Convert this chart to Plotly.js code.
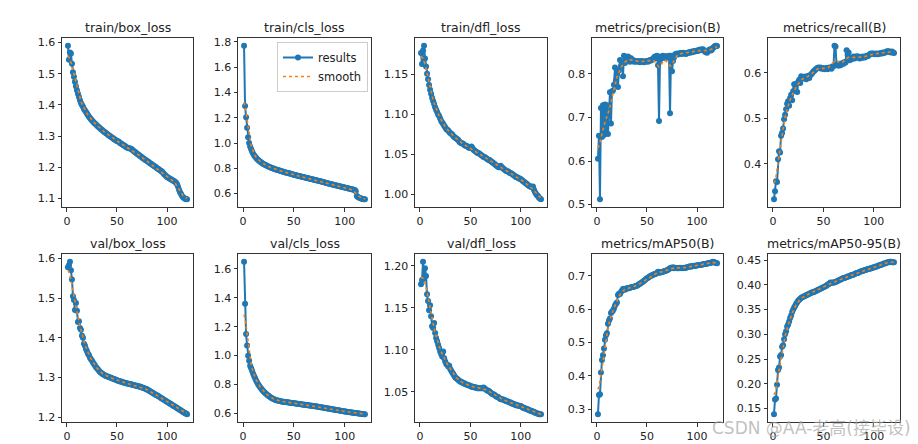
<!DOCTYPE html>
<html>
<head>
<meta charset="utf-8">
<script src="https://cdn.plot.ly/plotly-3.0.1.min.js"></script>
<style>html,body{margin:0;padding:0;background:#fff;}#chart{width:918px;height:444px;}</style>
</head>
<body>
<div id="chart"></div>
<script>
// ---- data (epoch 1..120) ----
const trainBoxLoss = [
1.590,1.545,1.568,1.565,1.532,1.505,1.490,1.474,1.460,1.447,
1.436,1.425,1.415,1.406,1.400,1.394,1.387,1.382,1.377,1.372,
1.367,1.362,1.358,1.354,1.350,1.347,1.343,1.340,1.337,1.334,
1.331,1.328,1.325,1.322,1.320,1.317,1.314,1.312,1.309,1.307,
1.304,1.302,1.300,1.297,1.295,1.293,1.290,1.289,1.286,1.284,
1.283,1.281,1.278,1.276,1.274,1.272,1.270,1.268,1.265,1.263,
1.262,1.261,1.260,1.259,1.257,1.254,1.251,1.249,1.246,1.244,
1.241,1.239,1.236,1.234,1.231,1.229,1.227,1.224,1.222,1.220,
1.218,1.215,1.213,1.211,1.209,1.206,1.204,1.202,1.200,1.197,
1.195,1.193,1.190,1.188,1.186,1.182,1.178,1.175,1.172,1.169,
1.167,1.165,1.163,1.161,1.159,1.157,1.155,1.153,1.150,1.145,
1.137,1.128,1.120,1.114,1.108,1.104,1.101,1.099,1.098,1.097];
const trainClsLoss = [
1.770,1.292,1.205,1.120,1.045,1.000,0.972,0.950,0.932,0.916,
0.902,0.891,0.881,0.872,0.865,0.858,0.852,0.846,0.840,0.835,
0.830,0.826,0.822,0.818,0.814,0.810,0.807,0.804,0.801,0.798,
0.795,0.792,0.789,0.787,0.784,0.782,0.779,0.777,0.775,0.772,
0.769,0.767,0.765,0.763,0.761,0.759,0.757,0.755,0.752,0.749,
0.747,0.745,0.743,0.741,0.739,0.737,0.735,0.733,0.731,0.729,
0.727,0.725,0.723,0.721,0.719,0.717,0.715,0.713,0.711,0.709,
0.707,0.705,0.703,0.701,0.699,0.697,0.695,0.693,0.691,0.689,
0.687,0.685,0.683,0.681,0.679,0.677,0.675,0.673,0.671,0.669,
0.667,0.665,0.663,0.661,0.659,0.657,0.655,0.653,0.651,0.649,
0.647,0.645,0.643,0.641,0.639,0.637,0.635,0.633,0.631,0.629,
0.618,0.582,0.574,0.569,0.565,0.562,0.559,0.557,0.556,0.555];
const trainDflLoss = [
1.177,1.163,1.180,1.186,1.170,1.160,1.151,1.144,1.137,1.131,
1.126,1.121,1.117,1.113,1.109,1.106,1.103,1.100,1.098,1.095,
1.092,1.090,1.088,1.086,1.084,1.082,1.081,1.080,1.078,1.077,
1.076,1.075,1.073,1.072,1.071,1.070,1.069,1.068,1.066,1.065,
1.064,1.064,1.063,1.062,1.061,1.061,1.060,1.059,1.058,1.059,
1.060,1.058,1.056,1.055,1.054,1.053,1.052,1.052,1.051,1.050,
1.049,1.048,1.047,1.047,1.046,1.045,1.044,1.043,1.043,1.042,
1.041,1.040,1.039,1.038,1.037,1.036,1.035,1.034,1.034,1.036,
1.034,1.033,1.032,1.031,1.030,1.029,1.029,1.028,1.027,1.027,
1.026,1.025,1.024,1.023,1.022,1.022,1.021,1.020,1.020,1.019,
1.018,1.017,1.016,1.015,1.014,1.013,1.012,1.011,1.010,1.010,
1.009,1.010,1.006,1.003,1.001,0.999,0.998,0.996,0.995,0.994];
const precisionB = [
0.605,0.658,0.512,0.722,0.655,0.728,0.660,0.730,0.668,0.728,
0.662,0.705,0.758,0.686,0.760,0.762,0.775,0.815,0.785,0.800,
0.770,0.808,0.832,0.818,0.828,0.795,0.842,0.825,0.838,0.832,
0.840,0.838,0.828,0.836,0.830,0.832,0.828,0.830,0.828,0.829,
0.830,0.828,0.827,0.829,0.830,0.828,0.827,0.828,0.830,0.829,
0.828,0.830,0.832,0.831,0.833,0.835,0.838,0.840,0.836,0.842,
0.820,0.692,0.832,0.840,0.838,0.842,0.840,0.836,0.841,0.840,
0.838,0.842,0.710,0.842,0.806,0.830,0.838,0.845,0.846,0.847,
0.845,0.846,0.848,0.847,0.846,0.849,0.848,0.847,0.846,0.848,
0.849,0.850,0.849,0.851,0.850,0.852,0.851,0.853,0.852,0.854,
0.853,0.855,0.856,0.855,0.856,0.857,0.854,0.851,0.850,0.849,
0.852,0.855,0.857,0.854,0.856,0.860,0.862,0.864,0.865,0.864];
const recallB = [
0.322,0.340,0.362,0.360,0.410,0.428,0.425,0.462,0.468,0.478,
0.498,0.508,0.520,0.532,0.538,0.528,0.545,0.552,0.540,0.560,
0.575,0.565,0.576,0.558,0.580,0.585,0.578,0.593,0.590,0.588,
0.590,0.592,0.586,0.590,0.594,0.589,0.595,0.597,0.600,0.603,
0.605,0.607,0.609,0.611,0.612,0.611,0.612,0.609,0.611,0.610,
0.608,0.610,0.611,0.608,0.610,0.612,0.611,0.609,0.614,0.615,
0.660,0.658,0.618,0.620,0.616,0.620,0.617,0.619,0.622,0.620,
0.624,0.623,0.650,0.640,0.645,0.628,0.632,0.630,0.634,0.636,
0.632,0.635,0.637,0.634,0.636,0.632,0.634,0.633,0.636,0.635,
0.634,0.636,0.638,0.637,0.639,0.641,0.643,0.642,0.643,0.642,
0.641,0.643,0.642,0.641,0.643,0.642,0.644,0.643,0.645,0.644,
0.645,0.646,0.648,0.647,0.648,0.646,0.645,0.647,0.645,0.644];
const valBoxLoss = [
1.578,1.583,1.592,1.570,1.547,1.505,1.495,1.470,1.488,1.468,
1.440,1.442,1.425,1.420,1.405,1.400,1.385,1.380,1.372,1.366,
1.360,1.356,1.350,1.346,1.342,1.338,1.334,1.330,1.326,1.323,
1.320,1.317,1.314,1.312,1.310,1.308,1.307,1.305,1.304,1.303,
1.302,1.301,1.300,1.299,1.298,1.297,1.296,1.295,1.294,1.293,
1.292,1.291,1.290,1.290,1.289,1.288,1.287,1.287,1.286,1.285,
1.284,1.284,1.283,1.283,1.282,1.281,1.281,1.280,1.279,1.279,
1.278,1.277,1.277,1.276,1.275,1.274,1.273,1.272,1.271,1.270,
1.268,1.267,1.265,1.264,1.262,1.261,1.259,1.258,1.256,1.255,
1.253,1.252,1.250,1.248,1.247,1.245,1.244,1.242,1.241,1.239,
1.237,1.236,1.234,1.233,1.231,1.229,1.228,1.226,1.225,1.223,
1.221,1.220,1.218,1.217,1.215,1.213,1.212,1.210,1.209,1.207];
const valClsLoss = [
1.650,1.358,1.150,1.070,1.000,0.965,0.930,0.912,0.893,0.875,
0.858,0.842,0.826,0.812,0.800,0.790,0.780,0.771,0.762,0.754,
0.747,0.740,0.734,0.728,0.722,0.717,0.712,0.708,0.704,0.700,
0.697,0.694,0.692,0.690,0.688,0.686,0.685,0.683,0.682,0.681,
0.680,0.679,0.678,0.677,0.676,0.675,0.674,0.673,0.672,0.671,
0.670,0.669,0.668,0.667,0.666,0.665,0.664,0.663,0.662,0.661,
0.660,0.659,0.658,0.657,0.656,0.655,0.654,0.653,0.652,0.651,
0.650,0.649,0.648,0.646,0.645,0.644,0.643,0.642,0.640,0.639,
0.638,0.637,0.635,0.634,0.633,0.632,0.630,0.629,0.628,0.627,
0.625,0.624,0.623,0.622,0.620,0.619,0.618,0.617,0.616,0.614,
0.613,0.612,0.611,0.610,0.609,0.608,0.607,0.606,0.605,0.604,
0.603,0.602,0.601,0.600,0.599,0.598,0.597,0.596,0.595,0.594];
const valDflLoss = [
1.178,1.183,1.205,1.185,1.197,1.188,1.166,1.158,1.147,1.153,
1.140,1.128,1.126,1.132,1.120,1.114,1.110,1.106,1.102,1.098,
1.095,1.092,1.098,1.090,1.086,1.083,1.082,1.080,1.081,1.077,
1.075,1.073,1.071,1.069,1.067,1.066,1.065,1.064,1.063,1.062,
1.062,1.061,1.060,1.060,1.059,1.059,1.058,1.058,1.057,1.057,
1.056,1.056,1.056,1.055,1.055,1.055,1.054,1.054,1.054,1.054,
1.054,1.054,1.055,1.054,1.053,1.052,1.051,1.051,1.050,1.049,
1.048,1.047,1.047,1.046,1.045,1.044,1.044,1.043,1.042,1.041,
1.041,1.041,1.040,1.040,1.039,1.039,1.038,1.038,1.037,1.037,
1.036,1.036,1.035,1.035,1.034,1.034,1.034,1.033,1.033,1.033,
1.032,1.031,1.031,1.030,1.030,1.029,1.029,1.028,1.028,1.027,
1.027,1.026,1.026,1.025,1.025,1.024,1.024,1.023,1.023,1.023];
const mAP50B = [
0.285,0.343,0.345,0.410,0.448,0.462,0.482,0.508,0.522,0.528,
0.556,0.566,0.572,0.588,0.592,0.596,0.602,0.611,0.616,0.620,
0.642,0.646,0.645,0.651,0.656,0.660,0.661,0.658,0.660,0.662,
0.663,0.662,0.664,0.665,0.666,0.666,0.667,0.668,0.669,0.670,
0.672,0.674,0.676,0.678,0.680,0.682,0.685,0.687,0.690,0.692,
0.694,0.696,0.698,0.700,0.701,0.702,0.704,0.705,0.706,0.708,
0.712,0.710,0.709,0.710,0.711,0.712,0.713,0.714,0.715,0.716,
0.718,0.720,0.722,0.724,0.723,0.725,0.722,0.724,0.723,0.722,
0.723,0.722,0.724,0.723,0.722,0.723,0.724,0.723,0.724,0.725,
0.726,0.727,0.728,0.727,0.728,0.729,0.730,0.729,0.730,0.731,
0.731,0.732,0.732,0.733,0.733,0.734,0.735,0.735,0.736,0.736,
0.737,0.738,0.738,0.739,0.740,0.742,0.741,0.739,0.738,0.737];
const mAP5095B = [
0.138,0.168,0.170,0.198,0.228,0.233,0.255,0.258,0.275,0.278,
0.290,0.300,0.306,0.316,0.320,0.326,0.333,0.338,0.345,0.350,
0.354,0.358,0.362,0.365,0.368,0.370,0.372,0.374,0.375,0.376,
0.377,0.378,0.379,0.380,0.381,0.382,0.383,0.384,0.385,0.385,
0.386,0.387,0.388,0.389,0.390,0.391,0.392,0.393,0.394,0.395,
0.396,0.397,0.398,0.400,0.401,0.403,0.405,0.404,0.405,0.405,
0.405,0.406,0.407,0.408,0.409,0.410,0.411,0.412,0.413,0.414,
0.414,0.415,0.416,0.417,0.417,0.418,0.419,0.420,0.420,0.421,
0.422,0.423,0.424,0.424,0.425,0.426,0.427,0.428,0.428,0.429,
0.430,0.430,0.431,0.432,0.432,0.433,0.433,0.434,0.435,0.435,
0.436,0.437,0.437,0.438,0.439,0.440,0.440,0.441,0.442,0.443,
0.443,0.444,0.445,0.446,0.446,0.447,0.447,0.446,0.446,0.446];
const subplotTitles = ["train/box_loss","train/cls_loss","train/dfl_loss","metrics/precision(B)","metrics/recall(B)",
                       "val/box_loss","val/cls_loss","val/dfl_loss","metrics/mAP50(B)","metrics/mAP50-95(B)"];
const seriesList = [trainBoxLoss,trainClsLoss,trainDflLoss,precisionB,recallB,
                    valBoxLoss,valClsLoss,valDflLoss,mAP50B,mAP5095B];
const legendLabels = ["results","smooth"];
const watermarkText = "CSDN @AA-老高(接毕设)";

// ---- helpers ----
function gaussianFilter1d(y, sigma){
  const r = Math.floor(4*sigma+0.5), n=y.length, w=[];
  let s=0;
  for(let k=-r;k<=r;k++){const v=Math.exp(-0.5*k*k/(sigma*sigma)); w.push(v); s+=v;}
  const out=[];
  for(let i=0;i<n;i++){
    let acc=0;
    for(let k=-r;k<=r;k++){
      let j=i+k;
      while(j<0||j>=n){ if(j<0) j=-j-1; if(j>=n) j=2*n-j-1; }
      acc+=w[k+r]/s*y[j];
    }
    out.push(acc);
  }
  return out;
}

const W=918,H=444;
const cols=[[62,193],[238,371],[415,547],[592,723],[768,900]];
const rows=[[38,207],[254,422]];
const dticks=[0.1,0.2,0.05,0.1,0.1, 0.1,0.2,0.05,0.1,0.05];
const fmts=['.1f','.1f','.2f','.1f','.1f','.1f','.1f','.2f','.1f','.2f'];
const BLUE='#1f77b4', ORANGE='#ff7f0e', AX='#333333';
const FONT='DejaVu Sans';

const traces=[], annotations=[];
const layout={width:W,height:H,margin:{l:0,r:0,t:0,b:0},paper_bgcolor:'#fff',plot_bgcolor:'#fff',
  font:{family:FONT,size:11,color:'#222'},
  legend:{x:368/W,xanchor:'right',y:1-42/H,yanchor:'top',bgcolor:'rgba(255,255,255,0.85)',
    bordercolor:'#cccccc',borderwidth:1,font:{family:FONT,size:11.5,color:'#222'},
    tracegroupgap:0,itemwidth:30}};

seriesList.forEach((ys,i)=>{
  const epochs = ys.map((_,k)=>k+1);
  const smooth = gaussianFilter1d(ys,3);
  const ax = i+1, xa='x'+(i===0?'':ax), ya='y'+(i===0?'':ax);
  traces.push({x:epochs,y:ys,xaxis:xa,yaxis:ya,type:'scatter',mode:'lines+markers',name:legendLabels[0],
    line:{color:BLUE,width:2},marker:{color:BLUE,size:6},showlegend:i===1,hoverinfo:'skip'});
  traces.push({x:epochs,y:smooth,xaxis:xa,yaxis:ya,type:'scatter',mode:'lines',name:legendLabels[1],
    line:{color:ORANGE,width:1.6,dash:'dot'},showlegend:i===1,hoverinfo:'skip'});
  const r=Math.floor(i/5), c=i%5;
  const all=ys.concat(smooth);
  const mn=Math.min(...all), mx=Math.max(...all), pad=0.05*(mx-mn);
  const xmn=epochs[0], xmx=epochs[epochs.length-1], xpad=0.05*(xmx-xmn);
  const common={showline:true,mirror:true,linecolor:AX,linewidth:1,ticks:'outside',ticklen:3.5,tickwidth:1,
    tickcolor:AX,showgrid:false,zeroline:false,tickfont:{family:FONT,size:11,color:'#222'}};
  layout['xaxis'+(i===0?'':ax)]=Object.assign({},common,{domain:[cols[c][0]/W,cols[c][1]/W],anchor:ya,
    range:[xmn-xpad,xmx+xpad],tickmode:'linear',tick0:0,dtick:50});
  layout['yaxis'+(i===0?'':ax)]=Object.assign({},common,{domain:[1-rows[r][1]/H,1-rows[r][0]/H],anchor:xa,
    range:[mn-pad,mx+pad],tickmode:'linear',tick0:0,dtick:dticks[i],tickformat:fmts[i]});
  annotations.push({text:subplotTitles[i],xref:'paper',yref:'paper',x:(cols[c][0]+cols[c][1])/2/W,
    y:1-(rows[r][0]-10.5)/H,xanchor:'center',yanchor:'middle',showarrow:false,
    font:{family:FONT,size:12.5,color:'#222'}});
});
annotations.push({text:watermarkText,xref:'paper',yref:'paper',x:913/W,y:1-428/H,xanchor:'right',yanchor:'middle',
  showarrow:false,font:{family:'DejaVu Sans, Noto Sans CJK SC',size:17,color:'rgba(165,165,165,0.7)'}});
layout.annotations=annotations;

Plotly.newPlot('chart',traces,layout,{displayModeBar:false,staticPlot:true});
</script>
</body>
</html>
